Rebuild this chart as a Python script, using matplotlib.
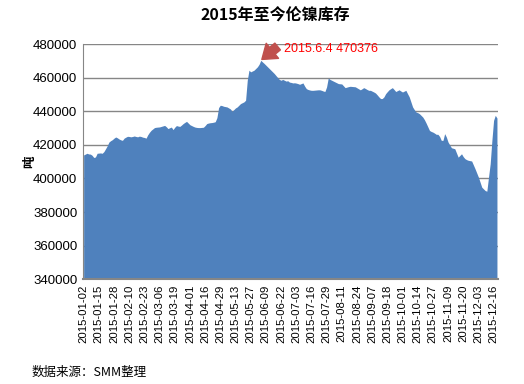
#!/usr/bin/env python3
"""
LME nickel stocks 2015 - area chart, saved as out.png
"""
import matplotlib
matplotlib.use('Agg')
import matplotlib.pyplot as plt
import pandas as pd

# LME trading days (UK holidays are skipped)
holidays = ['2015-01-01', '2015-04-03', '2015-04-06', '2015-05-04',
            '2015-05-25', '2015-08-31']
start_date = '2015-01-02'
end_date = '2015-12-18'

# stock in tonnes, one value per trading day
stocks = [
    414000, 414500, 415000, 414600, 414500, 413800, 412500, 412800, 415000, 415100,
    415200, 415000, 416000, 417700, 419500, 421700, 422500, 423100, 424000, 424700,
    424200, 423500, 423000, 422700, 424000, 424600, 425100, 425000, 424800, 425000,
    425300, 425000, 424800, 425200, 425000, 424600, 424400, 424000, 426000, 427500,
    428700, 429500, 430300, 430500, 430600, 430700, 431000, 431300, 431600, 430800,
    429700, 430200, 430600, 429100, 430500, 431500, 431200, 431000, 431800, 432700,
    433400, 434000, 433000, 432000, 431500, 431000, 430600, 430400, 430300, 430300,
    430400, 430500, 431500, 432700, 433000, 433200, 433300, 433500, 433800, 436200,
    442200, 443600, 443400, 443000, 442800, 442600, 442000, 441400, 440000, 441000,
    442000, 442600, 443600, 444600, 445100, 445600, 446600, 458500, 464500, 463500,
    464000, 464500, 465500, 466500, 468000, 470376, 469400, 468500, 467500, 466500,
    465500, 464500, 463500, 462500, 461300, 460100, 459000, 458500, 459000, 458500,
    458000, 458200, 457400, 457200, 456900, 457000, 456800, 456500, 456100, 456500,
    456900, 455000, 453500, 453000, 452700, 452500, 452500, 452600, 452700, 452800,
    452800, 452500, 452100, 451800, 454500, 459900, 459000, 458500, 458000, 457500,
    457000, 456500, 456400, 456300, 455200, 454100, 454400, 454700, 454900, 454800,
    454700, 454600, 454000, 453400, 452800, 453400, 454100, 453600, 453000, 452500,
    452500, 452000, 451500, 450900, 449800, 448600, 447600, 447600, 448600, 450500,
    451700, 452800, 453500, 454100, 453000, 451800, 452300, 452800, 452100, 451500,
    452000, 452500, 450500, 448600, 445600, 442600, 441000, 439600, 439200, 438600,
    437600, 436600, 435000, 433000, 430800, 428600, 428000, 427600, 427000, 426300,
    426300, 425000, 422700, 422700, 426700, 424700, 421700, 420000, 418300, 418000,
    417700, 415200, 412700, 413700, 414700, 413000, 411800, 411200, 410800, 410600,
    410400, 408100, 405800, 403300, 400800, 397800, 394800, 393800, 392800, 392400,
    400800, 408800, 422700, 434600, 437600, 436000,
]

peak_date = '2015-06-04'
yticks = [340000, 360000, 380000, 400000, 420000, 440000, 460000, 480000]
label_step = 9

days = pd.bdate_range(start_date, end_date)
days = days[~days.isin(pd.to_datetime(holidays))]
dates = [d.strftime('%Y-%m-%d') for d in days][:len(stocks)]

blue = '#4F81BD'
grid_c = '#868686'
plt.rcParams['font.family'] = ['Liberation Sans', 'Noto Sans CJK SC', 'DejaVu Sans']
cjk = ['Noto Sans CJK SC', 'DejaVu Sans']

fig = plt.figure(figsize=(5.24, 3.84), dpi=100)
ax = fig.add_axes([0.158, 0.273, 0.792, 0.612])

x = list(range(len(stocks)))
ax.fill_between(x, yticks[0], stocks, color=blue, linewidth=0, zorder=2)

ax.set_xlim(-0.5, len(stocks) - 0.5)
ax.set_ylim(yticks[0], yticks[-1])
ax.set_yticks(yticks)
ax.set_yticklabels([str(v) for v in yticks], fontsize=9.5)
ax.yaxis.grid(True, color=grid_c, linewidth=1, zorder=1)
ax.set_axisbelow(True)

ax.set_xticks(x[::label_step])
ax.set_xticklabels(dates[::label_step], rotation=90, fontsize=8.2)
ax.tick_params(axis='both', length=0, pad=4)

for side in ['top', 'right']:
    ax.spines[side].set_visible(False)
ax.spines['left'].set_color(grid_c)
ax.spines['bottom'].set_color(grid_c)
ax.spines['bottom'].set_linewidth(1.5)

# annotate the peak: fat red arrow + red label
i_peak = dates.index(peak_date)
y, m, d = peak_date.split('-')
peak_lbl = '%s.%d.%d %d' % (y, int(m), int(d), stocks[i_peak])
ax.annotate('', xy=(i_peak, stocks[i_peak]), xytext=(i_peak + 10, 478600),
            arrowprops=dict(arrowstyle='simple,head_length=0.7,head_width=1.0,tail_width=0.45',
                            mutation_scale=14, color='#C0504D', shrinkA=0, shrinkB=1),
            zorder=5)
ax.text(i_peak + 13.5, 477000, peak_lbl, color='#FF0000', fontsize=9,
        va='center', ha='left', zorder=5)

fig.text(0.525, 0.962, '2015年至今伦镍库存', ha='center', va='center',
         fontsize=11.5, fontweight='bold', family=cjk)
fig.text(0.057, 0.58, '吨', ha='center', va='center', rotation=90,
         fontsize=9, fontweight='bold', family=cjk)
fig.text(0.061, 0.03, '数据来源：SMM整理', ha='left', va='center',
         fontsize=9, family=cjk)

plt.savefig('out.png', dpi=100)
print("Success!")
